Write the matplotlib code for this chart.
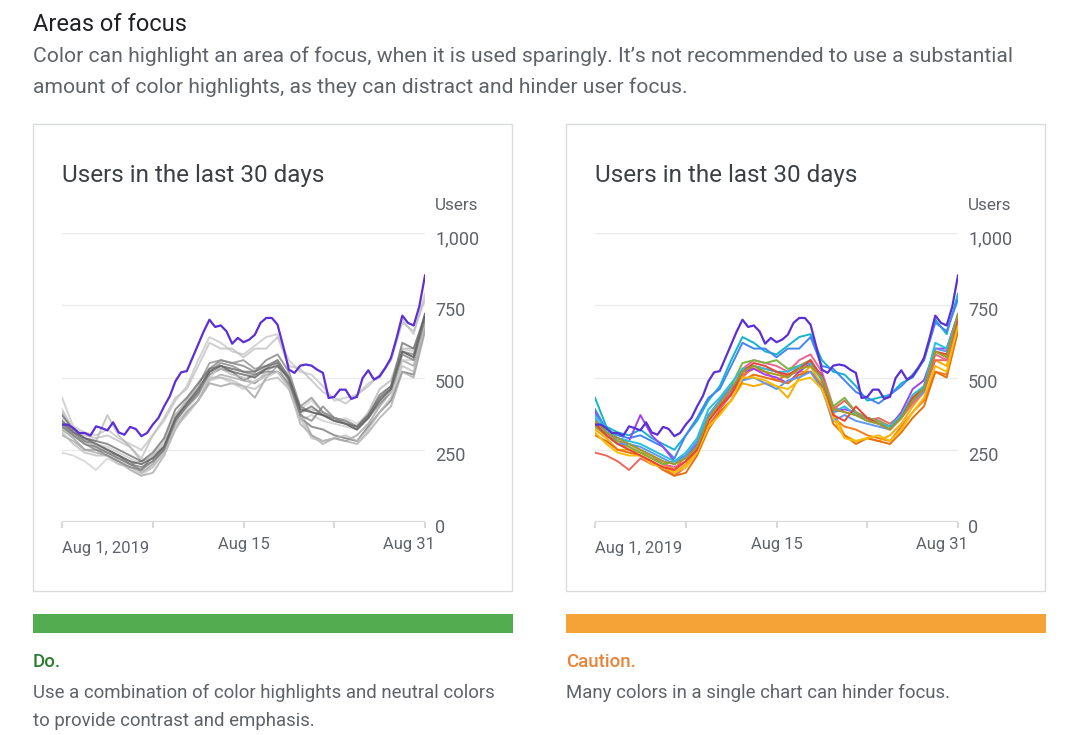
import numpy as np
import matplotlib
matplotlib.use("Agg")
import matplotlib.pyplot as plt
from matplotlib.patches import Rectangle
from matplotlib.transforms import ScaledTranslation

plt.rcParams["font.family"] = ["Roboto", "DejaVu Sans"]

W, H = 1080, 735

# highlighted series, two readings per day (Aug 1 -> Aug 31)
focus = [337, 337, 325, 308, 308, 299, 331, 325, 317, 345, 310, 302, 329, 322, 297, 308,
         337, 360, 400, 435, 487, 518, 522, 568, 614, 660, 700, 675, 680, 660, 617, 637,
         622, 631, 648, 689, 706, 706, 683, 608, 527, 516, 541, 545, 541, 527, 516, 429,
         433, 458, 458, 426, 433, 498, 525, 493, 504, 533, 568, 637, 714, 689, 680, 746, 853]

# the other series, one reading per day
cyan_s = [430, 330, 310, 300, 320, 290, 270, 250, 300, 350, 420, 470, 560, 640, 620, 590, 580,
          610, 640, 650, 560, 520, 510, 470, 420, 430, 440, 480, 500, 560, 700, 650, 790]
blue_s = [390, 320, 300, 290, 300, 280, 260, 220, 300, 360, 430, 460, 540, 620, 600, 600, 570,
          600, 600, 640, 540, 530, 490, 450, 430, 410, 440, 470, 510, 560, 690, 660, 770]
orange_s = [330, 300, 270, 260, 240, 220, 200, 180, 230, 260, 350, 400, 450, 510, 530, 520, 490,
            510, 520, 520, 480, 360, 330, 320, 300, 290, 280, 330, 380, 420, 520, 510, 670]
amber_s = [320, 290, 250, 250, 240, 230, 210, 170, 200, 250, 340, 380, 420, 480, 470, 480, 470,
           430, 500, 540, 470, 380, 300, 280, 290, 280, 300, 340, 400, 450, 560, 540, 680]
coral_s = [240, 230, 210, 180, 220, 200, 190, 160, 190, 240, 330, 390, 440, 500, 540, 530, 520,
           500, 540, 560, 500, 390, 420, 380, 350, 360, 340, 370, 420, 460, 560, 560, 690]
pink_s = [340, 310, 280, 270, 250, 230, 200, 190, 210, 250, 360, 410, 450, 530, 560, 550, 540,
          520, 560, 580, 520, 400, 380, 370, 360, 350, 330, 360, 410, 450, 580, 560, 700]
violet_s = [380, 310, 290, 280, 370, 300, 260, 210, 230, 270, 370, 410, 460, 520, 530, 510, 500,
            480, 520, 550, 510, 380, 390, 380, 360, 350, 330, 380, 460, 490, 600, 600, 720]
green_s = [330, 300, 280, 260, 240, 220, 200, 210, 220, 260, 370, 420, 470, 550, 560, 550, 560,
           530, 540, 560, 500, 400, 430, 380, 360, 350, 330, 370, 430, 470, 590, 570, 720]
dorange_s = [300, 280, 250, 240, 230, 210, 180, 160, 170, 230, 320, 380, 420, 490, 510, 500, 490,
             480, 510, 520, 470, 340, 300, 270, 290, 280, 270, 310, 360, 400, 520, 500, 660]
lblue_s = [360, 300, 270, 270, 260, 240, 220, 200, 230, 280, 370, 420, 470, 490, 500, 480, 460,
           490, 500, 520, 460, 350, 370, 350, 340, 330, 320, 360, 420, 450, 600, 590, 700]
teal_s = [370, 320, 290, 280, 270, 250, 230, 210, 240, 290, 390, 430, 480, 530, 540, 530, 520,
          520, 540, 550, 490, 380, 400, 370, 350, 340, 330, 370, 440, 470, 620, 600, 710]
yellow_s = [310, 270, 240, 230, 230, 200, 190, 170, 190, 240, 330, 370, 420, 500, 500, 490, 470,
            460, 490, 500, 460, 360, 290, 280, 290, 300, 280, 320, 380, 430, 540, 520, 680]
red_s = [340, 300, 270, 250, 230, 210, 190, 180, 210, 250, 350, 400, 440, 520, 550, 540, 520,
         510, 530, 560, 500, 370, 350, 400, 360, 340, 320, 360, 430, 460, 590, 580, 700]
olive_s = [350, 310, 290, 270, 250, 230, 210, 200, 220, 260, 360, 410, 460, 520, 540, 520, 510,
           500, 530, 540, 500, 390, 380, 370, 350, 340, 320, 360, 420, 460, 590, 570, 720]

others = [cyan_s, blue_s, orange_s, amber_s, coral_s, pink_s, violet_s,
          green_s, dorange_s, lblue_s, teal_s, yellow_s, red_s, olive_s]
many_colors = ["#12b5cb", "#4285f4", "#fa7b17", "#f9ab00", "#ee675c", "#f06292", "#a142f4",
               "#7cb342", "#e8710a", "#5e97f6", "#24c1e0", "#fbbc04", "#ea4335", "#9e9d24"]
grey_colors = ["#c4c4c4", "#bdbdbd", "#6f6f6f", "#9a9a9a", "#cfcfcf", "#7a7a7a", "#b5b5b5",
               "#8a8a8a", "#a6a6a6", "#c8c8c8", "#6a6a6a", "#bababa", "#808080", "#5f5f5f"]

x_focus = np.arange(len(focus))
x_other = np.arange(0, len(focus), 2)
tick_pos = [0, 16, 32, 48, 64]
y_ticks = [0, 250, 500, 750, 1000]

FOCUS_COLOR = "#5b2fd6"
TEXT = "#5f6368"


def fx(x):
    return x / W


def fy(y):
    return 1 - y / H


fig = plt.figure(figsize=(W / 100, H / 100), dpi=100)
fig.patch.set_facecolor("white")

fig.text(fx(33), fy(31), "Areas of focus", fontsize=17, color="#202124", va="baseline")
fig.text(fx(33), fy(62), "Color can highlight an area of focus, when it is used sparingly. "
         "It\u2019s not recommended to use a substantial", fontsize=15.2, color=TEXT, va="baseline")
fig.text(fx(33), fy(93), "amount of color highlights, as they can distract and hinder user focus.",
         fontsize=15.2, color=TEXT, va="baseline")


def panel(x0, line_colors, alpha, bar_color, head, head_color, caption):
    fig.patches.append(Rectangle((fx(x0), fy(591)), 479 / W, 467 / H, transform=fig.transFigure,
                                 fill=False, ec="#dadce0", lw=1))
    ax = fig.add_axes([fx(x0 + 29), fy(522), 363 / W, 289 / H])
    for s, c in zip(others, line_colors):
        ax.plot(x_other, s, color=c, lw=1.4, alpha=alpha, solid_joinstyle="round")
    ax.plot(x_focus, focus, color=FOCUS_COLOR, lw=1.6, solid_joinstyle="round")

    ax.set_xlim(0, 64)
    ax.set_ylim(0, 1000)
    for sp in ax.spines.values():
        sp.set_visible(False)
    ax.set_axisbelow(True)
    ax.set_yticks(y_ticks)
    ax.grid(axis="y", color="#ebebeb", lw=1)
    ax.axhline(0, color="#d9d9d9", lw=1.6, zorder=1)

    ax.set_xticks(tick_pos)
    ax.tick_params(axis="x", length=4, width=1.5, color="#d9d9d9", labelbottom=False)
    ax.tick_params(axis="y", length=0, labelleft=False)

    # value labels sit just under their gridline, right of the plot
    ytr = ax.get_yaxis_transform() + ScaledTranslation(0.1, 0.03, fig.dpi_scale_trans)
    for v in y_ticks:
        ax.text(1, v, f"{v:,}", transform=ytr, ha="left", va="top", fontsize=13, color=TEXT)

    tr = ax.get_xaxis_transform()
    ax.text(0, 0, "Aug 1, 2019", transform=tr + ScaledTranslation(0, -0.31, fig.dpi_scale_trans),
            ha="left", va="baseline", fontsize=12, color=TEXT)
    ax.text(32, 0, "Aug 15", transform=tr + ScaledTranslation(0, -0.27, fig.dpi_scale_trans),
            ha="center", va="baseline", fontsize=12, color=TEXT)
    ax.text(64, 0, "Aug 31", transform=tr + ScaledTranslation(0.1, -0.27, fig.dpi_scale_trans),
            ha="right", va="baseline", fontsize=12, color=TEXT)

    fig.text(fx(x0 + 445), fy(205), "Users", ha="right", va="center", fontsize=12.3, color=TEXT)
    fig.text(fx(x0 + 29), fy(182), "Users in the last 30 days", ha="left", va="baseline",
             fontsize=17.5, color="#3c4043")

    fig.patches.append(Rectangle((fx(x0), fy(633)), 480 / W, 19 / H, transform=fig.transFigure,
                                 fc=bar_color, ec="none"))
    fig.text(fx(x0), fy(667), head, fontsize=13.4, color=head_color, fontweight="medium", va="baseline")
    for i, line in enumerate(caption):
        fig.text(fx(x0), fy(698 + 28 * i), line, fontsize=13.4, color=TEXT, va="baseline")


panel(33, grey_colors, 0.75, "#53ac50", "Do.", "#2e7d32",
      ["Use a combination of color highlights and neutral colors",
       "to provide contrast and emphasis."])
panel(566, many_colors, 1.0, "#f5a337", "Caution.", "#e8833a",
      ["Many colors in a single chart can hinder focus."])

fig.savefig("out.png", dpi=100, facecolor="white")
